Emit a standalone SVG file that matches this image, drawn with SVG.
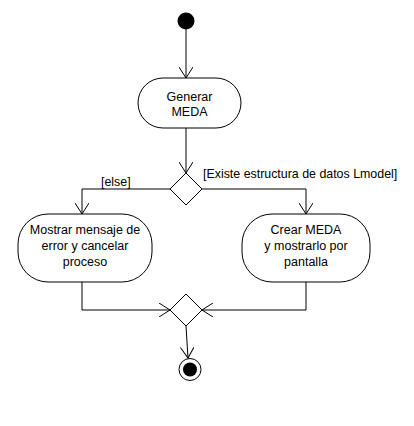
<svg xmlns="http://www.w3.org/2000/svg" width="414" height="426" viewBox="0 0 414 426">
<defs>
<marker id="arr" viewBox="0 0 12 14" refX="11" refY="7" markerWidth="12" markerHeight="14" markerUnits="userSpaceOnUse" orient="auto">
<path d="M0,0 L11,7 L0,14" fill="none" stroke="#000" stroke-width="1"/>
</marker>
<style>
.node{fill:#fff;stroke:#000;stroke-width:1}
.t{font-family:"Liberation Sans",Arial,sans-serif;font-size:12.5px;fill:#000;text-anchor:middle}
.l{font-family:"Liberation Sans",Arial,sans-serif;font-size:12.4px;fill:#000}
.c{fill:none;stroke:#000;stroke-width:1;marker-end:url(#arr)}
</style>
</defs>
<rect width="414" height="426" fill="#fff"/>
<g id="connectors">
<path class="c" d="M186,29 L186,78"/>
<path class="c" d="M186,128 L186,173"/>
<path class="c" d="M170,189 L82,189 L82,214"/>
<path class="c" d="M202,189 L306,189 L306,214"/>
<path class="c" d="M82,282 L82,310 L170,310"/>
<path class="c" d="M306,282 L306,310 L202,310"/>
<path class="c" d="M186,326 L188,358"/>
</g>
<g id="start"><circle cx="186" cy="21" r="8.5" fill="#000"/></g>
<g id="generar">
<rect class="node" x="138" y="78" width="103" height="50" rx="25" ry="25"/>
<text class="t" x="189.5" y="101">Generar</text>
<text class="t" x="189.5" y="116">MEDA</text>
</g>
<g id="decision">
<polygon class="node" points="186,173 202,189 186,205 170,189"/>
</g>
<g id="labels">
<text class="l" x="101" y="186">[else]</text>
<text class="l" x="203" y="178">[Existe estructura de datos Lmodel]</text>
</g>
<g id="error">
<rect class="node" x="18" y="214" width="134" height="68" rx="30" ry="30"/>
<text class="t" x="85" y="234">Mostrar mensaje de</text>
<text class="t" x="85" y="250">error y cancelar</text>
<text class="t" x="85" y="266">proceso</text>
</g>
<g id="crear">
<rect class="node" x="242" y="214" width="128" height="68" rx="30" ry="30"/>
<text class="t" x="306" y="234">Crear MEDA</text>
<text class="t" x="306" y="250">y mostrarlo por</text>
<text class="t" x="306" y="266">pantalla</text>
</g>
<g id="merge">
<polygon class="node" points="186,294 202,310 186,326 170,310"/>
</g>
<g id="end">
<circle cx="190" cy="369.5" r="11" fill="#fff" stroke="#000" stroke-width="1"/>
<circle cx="190" cy="369.5" r="7" fill="#000"/>
</g>
</svg>
